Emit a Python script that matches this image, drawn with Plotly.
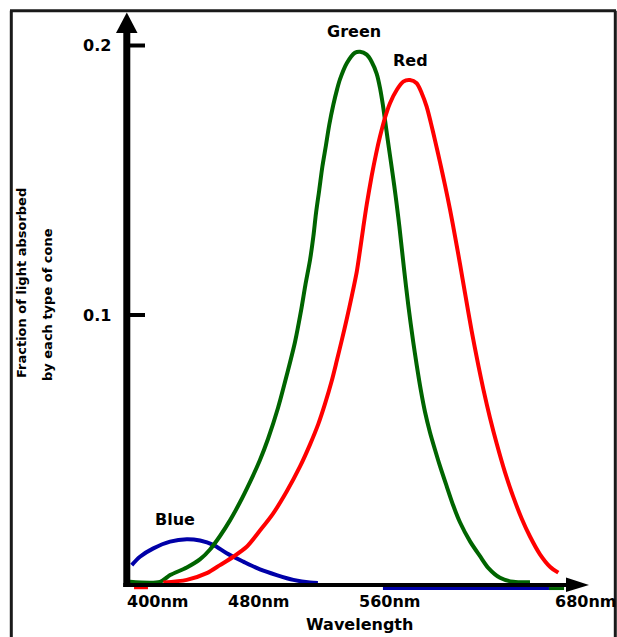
import plotly.graph_objects as go

# ---------------- data ----------------
green_nm = [401.8, 420.2, 426.3, 436.5, 444.7, 450.7, 456.8, 462.9, 469.0, 475.1, 481.2, 486.1,
            492.2, 497.7, 502.6, 506.4, 508.9, 511.8, 513.8, 515.4, 517.4, 519.3, 521.5, 523.5,
            526.0, 528.4, 530.1, 534.2, 539.2, 542.3, 546.4, 549.4, 552.5, 554.5, 556.2, 557.6,
            559.0, 561.0, 563.2, 564.7, 566.3, 569.2, 571.8, 574.8, 576.9, 579.4, 582.0, 585.0,
            588.1, 591.1, 595.2, 599.3, 603.4, 609.5, 615.6, 620.6, 627.8, 635.9, 646.1]
green_val = [0.0010, 0.0010, 0.0035, 0.0063, 0.0094, 0.0130, 0.0180, 0.0238, 0.0305, 0.0380, 0.0462, 0.0540,
             0.0655, 0.0780, 0.0900, 0.1020, 0.1110, 0.1205, 0.1291, 0.1377, 0.1464, 0.1550, 0.1630, 0.1705,
             0.1780, 0.1840, 0.1875, 0.1934, 0.1973, 0.1977, 0.1966, 0.1940, 0.1895, 0.1843, 0.1782, 0.1722,
             0.1660, 0.1575, 0.1480, 0.1410, 0.1330, 0.1170, 0.1035, 0.0900, 0.0815, 0.0722, 0.0640, 0.0565,
             0.0500, 0.0440, 0.0365, 0.0292, 0.0230, 0.0160, 0.0105, 0.0062, 0.0025, 0.0010, 0.0008]

red_nm = [422.2, 436.5, 448.7, 456.8, 464.9, 473.1, 481.2, 489.3, 497.5, 505.6, 511.8, 516.8,
          520.9, 525.0, 528.1, 531.1, 534.2, 537.2, 540.3, 542.3, 544.3, 546.4, 549.4, 552.1,
          554.5, 557.6, 560.6, 564.7, 568.7, 572.8, 576.9, 580.0, 583.0, 585.6, 588.1, 591.1,
          594.2, 597.3, 600.3, 603.4, 606.4, 610.5, 614.5, 617.6, 621.7, 625.8, 630.8, 635.9,
          641.0, 646.1, 652.2, 658.3, 663.4]
red_val = [0.0007, 0.0017, 0.0042, 0.0072, 0.0103, 0.0140, 0.0200, 0.0264, 0.0345, 0.0437, 0.0520, 0.0595,
           0.0670, 0.0755, 0.0830, 0.0905, 0.0985, 0.1068, 0.1160, 0.1240, 0.1325, 0.1410, 0.1515, 0.1598,
           0.1662, 0.1733, 0.1786, 0.1835, 0.1866, 0.1872, 0.1860, 0.1823, 0.1773, 0.1712, 0.1648, 0.1568,
           0.1482, 0.1390, 0.1293, 0.1188, 0.1082, 0.0940, 0.0815, 0.0725, 0.0618, 0.0522, 0.0417, 0.0325,
           0.0245, 0.0178, 0.0112, 0.0066, 0.0044]

blue_nm = [402.9, 407.9, 416.1, 426.3, 436.5, 444.6, 452.7, 460.9, 471.0, 481.2, 491.4, 501.6, 511.8, 516.6]
blue_val = [0.0072, 0.0103, 0.0134, 0.0159, 0.0168, 0.0163, 0.0147, 0.0116, 0.0085, 0.0056, 0.0035, 0.0017, 0.0007, 0.0006]

# small stray segments just below the axis in the original picture
red_tail_nm = [404.3, 412.8]
red_tail_val = [-0.0012, -0.0012]
blue_tail_nm = [556.3, 657.7]
blue_tail_val = [-0.0015, -0.0015]
green_tail_nm = [657.7, 666.9]
green_tail_val = [-0.0015, -0.0015]

x_tick_vals = [400, 480, 560, 680]
x_tick_text = ["400nm", "480nm", "560nm", "680nm"]
y_tick_vals = [0.1, 0.2]
y_tick_text = ["0.1", "0.2"]

curve_labels = ["Green", "Red", "Blue"]
label_nm = [538.9, 573.4, 429.3]
label_val = [0.2052, 0.1946, 0.0243]

GREEN = "#006400"
RED = "#FF0000"
BLUE = "#0000A8"

# ---------------- pixel <-> data helpers (layout only) ----------------
W, H = 617, 637
X0PX, XSCALE = 127.0, 1.6375      # px of 400 nm, px per nm
Y0PX, YSCALE = 584.5, 2695.0      # px of 0, px per unit


def X(px):
    return 400 + (px - X0PX) / XSCALE


def Y(py):
    return (Y0PX - py) / YSCALE


font_b = dict(family="DejaVu Sans", size=16, color="black", weight="bold")

fig = go.Figure()
for xs, ys, col, w, shape in [
    (blue_nm, blue_val, BLUE, 4, "spline"),
    (green_nm, green_val, GREEN, 4, "spline"),
    (red_nm, red_val, RED, 4, "spline"),
    (red_tail_nm, red_tail_val, RED, 3, "linear"),
    (blue_tail_nm, blue_tail_val, BLUE, 3, "linear"),
    (green_tail_nm, green_tail_val, GREEN, 3, "linear"),
]:
    fig.add_trace(go.Scatter(x=xs, y=ys, mode="lines",
                             line=dict(color=col, width=w, shape=shape, smoothing=0.8),
                             hoverinfo="skip", showlegend=False))

shapes = []
# outer frame (left, top, right)
frame_col = "#1a1a1a"
shapes.append(dict(type="line", x0=X(11.3), x1=X(11.3), y0=Y(10.8), y1=Y(700), line=dict(color=frame_col, width=3)))
shapes.append(dict(type="line", x0=X(10), x1=X(616), y0=Y(10.8), y1=Y(10.8), line=dict(color=frame_col, width=3)))
shapes.append(dict(type="line", x0=X(615.3), x1=X(615.3), y0=Y(10.8), y1=Y(700), line=dict(color=frame_col, width=3)))
# y axis with arrow
shapes.append(dict(type="line", x0=X(126.8), x1=X(126.8), y0=Y(587), y1=Y(30), line=dict(color="black", width=7)))
shapes.append(dict(type="path",
                   path=f"M {X(126.8)},{Y(12.5)} L {X(116)},{Y(33)} L {X(137.5)},{Y(33)} Z",
                   fillcolor="black", line=dict(color="black", width=0)))
# x axis with arrow
shapes.append(dict(type="line", x0=X(123.3), x1=X(568), y0=Y(585), y1=Y(585), line=dict(color="black", width=4)))
shapes.append(dict(type="path",
                   path=f"M {X(589)},{Y(585)} L {X(566)},{Y(577.5)} L {X(566)},{Y(592)} Z",
                   fillcolor="black", line=dict(color="black", width=0)))
# y ticks
for v in y_tick_vals:
    shapes.append(dict(type="line", x0=X(129), x1=X(145), y0=v, y1=v, line=dict(color="black", width=4)))

annotations = []
for v, t in zip(y_tick_vals, y_tick_text):
    annotations.append(dict(x=X(113), y=v, text=t, showarrow=False, xanchor="right", yanchor="middle",
                            font=font_b))
for v, t in zip(x_tick_vals, x_tick_text):
    annotations.append(dict(x=v if v != 400 else X(124.5), y=Y(601.5), text=t, showarrow=False,
                            xanchor="left" if v == 400 else "center", yanchor="middle", font=font_b))
for t, xv, yv in zip(curve_labels, label_nm, label_val):
    annotations.append(dict(x=xv, y=yv, text=t, showarrow=False, xanchor="center", yanchor="middle",
                            font=font_b))
annotations.append(dict(x=X(359), y=Y(636), text="Wavelength", showarrow=False,
                        xanchor="center", yanchor="bottom", font=font_b))
font_t = dict(family="DejaVu Sans", size=13, color="black", weight="bold")
annotations.append(dict(x=X(21.5), y=Y(283.5), text="Fraction of light absorbed", textangle=-90,
                        showarrow=False, xanchor="center", yanchor="middle", font=font_t))
annotations.append(dict(x=X(47), y=Y(305), text="by each type of cone", textangle=-90,
                        showarrow=False, xanchor="center", yanchor="middle", font=font_t))

fig.update_layout(
    width=W, height=H,
    margin=dict(l=0, r=0, t=0, b=0, pad=0),
    paper_bgcolor="white", plot_bgcolor="white",
    xaxis=dict(range=[X(0), X(W)], visible=False, fixedrange=True),
    yaxis=dict(range=[Y(H), Y(0)], visible=False, fixedrange=True),
    shapes=shapes, annotations=annotations, showlegend=False,
)

fig.write_html("out.html", post_script="document.body.style.margin='0';",
               config={"displayModeBar": False})
